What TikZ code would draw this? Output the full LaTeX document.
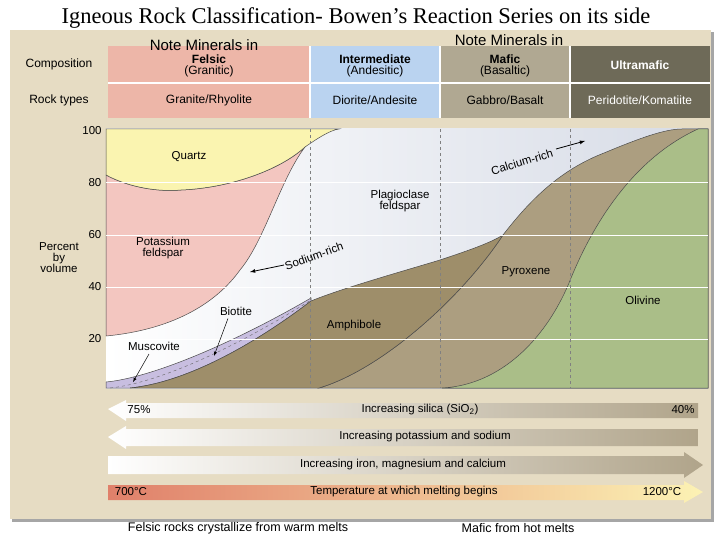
\documentclass[tikz,border=0pt]{standalone}
\usepackage{fontspec}
\setmainfont{Liberation Sans}
\newfontfamily\titlefont{Liberation Serif}
\begin{document}
\begin{tikzpicture}[x=1pt,y=-1pt,
  lbl/.style={font=\fontsize{11.5}{13}\selectfont, align=center, inner sep=1pt},
  hdr/.style={font=\fontsize{12}{13}\selectfont, align=center},
  bdry/.style={draw=black!70, line width=0.5pt},
  arr/.style={-latex, line width=0.8pt}]
\useasboundingbox (0,0) rectangle (720,540);
\fill[white] (0,0) rectangle (720,540);
% panel
\fill[black!35] (12,32) rectangle (714,522);
\fill[fill={rgb,255:red,230;green,220;blue,195}] (10,30) rectangle (711,519);
% header
\fill[fill={rgb,255:red,237;green,182;blue,168}] (108,46) rectangle (310,118);
\fill[fill={rgb,255:red,186;green,211;blue,240}] (310,46) rectangle (440,118);
\fill[fill={rgb,255:red,176;green,168;blue,146}] (440,46) rectangle (570,118);
\fill[fill={rgb,255:red,110;green,106;blue,88}] (570,46) rectangle (710,118);
\draw[white, line width=1.2pt] (108,83) -- (710,83) (310,46) -- (310,118) (440,46) -- (440,118) (570,46) -- (570,118);
\node[hdr] (comp) at (59,64) {Composition};
\node[hdr] (rock) at (59,100) {Rock types};
\node[hdr] (fel) at (209,66) {\textbf{Felsic}\\[-2pt](Granitic)};
\node[hdr] (int) at (375,66) {\textbf{Intermediate}\\[-2pt](Andesitic)};
\node[hdr] (maf) at (505,66) {\textbf{Mafic}\\[-2pt](Basaltic)};
\node[hdr, text=white] (ult) at (640,65) {\textbf{Ultramafic}};
\node[hdr] (r1) at (209,100) {Granite/Rhyolite};
\node[hdr] (r2) at (375,100) {Diorite/Andesite};
\node[hdr] (r3) at (505,100) {Gabbro/Basalt};
\node[hdr, text=white] (r4) at (640,100) {Peridotite/Komatiite};
\node[font=\fontsize{15}{17}\selectfont] (n1) at (204,45) {Note Minerals in};
\node[font=\fontsize{15}{17}\selectfont] (n2) at (509,40) {Note Minerals in};
\node[font=\titlefont\fontsize{22.5}{25}\selectfont] (title) at (356,18) {Igneous Rock Classification- Bowen’s Reaction Series on its side};
% chart background
\shade[left color=white, right color={rgb,255:red,214;green,219;blue,230}] (106,129) rectangle (708,388);
% pyroxene
\fill[fill={rgb,255:red,172;green,158;blue,128}, bdry] (319,388) .. controls (380,370) and (460,300) .. (503,235) .. controls (530,200) and (560,170) .. (604,153) .. controls (640,138) and (665,129) .. (682,129) -- (708,129) -- (708,388) -- cycle;
% olivine
\fill[fill={rgb,255:red,170;green,190;blue,136}, bdry] (442,388) .. controls (500,385) and (545,340) .. (569,283) .. controls (590,230) and (630,160) .. (698,129) -- (708,129) -- (708,388) -- cycle;
% purple biotite
\fill[fill={rgb,255:red,200;green,190;blue,224}, bdry] (106,382) .. controls (150,378) and (230,345) .. (311,298) -- (311,301) .. controls (260,340) and (190,382) .. (130,388) -- (106,388) -- cycle;
\draw[dashed, black!60, line width=0.4pt] (110,388) .. controls (160,383) and (240,345) .. (311,300);
% amphibole
\fill[fill={rgb,255:red,158;green,142;blue,106}, bdry] (130,388) .. controls (190,382) and (260,340) .. (311,301) .. controls (340,289) and (400,272) .. (440,260) .. controls (470,250) and (490,243) .. (503,235) .. controls (460,300) and (380,370) .. (319,388) -- cycle;
% potassium feldspar
\fill[fill={rgb,255:red,243;green,198;blue,192}, bdry] (106,175) .. controls (130,188) and (160,192) .. (181,190) .. controls (230,188) and (280,170) .. (305,147) .. controls (280,180) and (265,240) .. (240,270) .. controls (215,305) and (170,330) .. (106,336) -- cycle;
% quartz
\fill[fill={rgb,255:red,250;green,244;blue,176}, bdry] (106,129) -- (106,175) .. controls (130,188) and (160,192) .. (181,190) .. controls (230,188) and (280,170) .. (305,147) .. controls (315,140) and (330,130) .. (339,129) -- cycle;
% grid
\draw[white, line width=1pt] (106,183) -- (708,183) (106,235) -- (708,235) (106,287) -- (708,287) (106,339) -- (708,339);
\draw[dashed, black!50, line width=0.4pt] (310,129) -- (310,388) (440,129) -- (440,388) (570,129) -- (570,388);
% axis labels
\node[lbl] (y100) at (92,131) {100};
\node[lbl] (y80) at (95,183) {80};
\node[lbl] (y60) at (95,235) {60};
\node[lbl] (y40) at (95,287) {40};
\node[lbl] (y20) at (95,339) {20};
\node[lbl] (pv) at (59,258) {Percent\\[-2pt]by\\[-2pt]volume};
% mineral labels
\node[lbl] (qz) at (189,157) {Quartz};
\node[lbl] (kf) at (163,248) {Potassium\\[-2pt]feldspar};
\node[lbl] (pl) at (400,201) {Plagioclase\\[-2pt]feldspar};
\node[lbl, rotate=20] (na) at (314,256) {Sodium-rich};
\coordinate (na1) at (284,265); \coordinate (na2) at (250,272);
\draw[arr] (na1) -- (na2);
\node[lbl, rotate=17] (ca) at (522,162) {Calcium-rich};
\coordinate (ca1) at (556,149); \coordinate (ca2) at (585,141);
\draw[arr] (ca1) -- (ca2);
\node[lbl] (bi) at (236,311) {Biotite};
\coordinate (bi2) at (214,356);
\draw[arr, line width=0.5pt] (bi.south) ++(-8,2) -- (bi2);
\node[lbl] (mu) at (154,346) {Muscovite};
\coordinate (mu2) at (133,382);
\draw[arr, line width=0.5pt] (149,354) -- (mu2);
\node[lbl] (am) at (354,326) {Amphibole};
\node[lbl] (py) at (526,272) {Pyroxene};
\node[lbl] (ol) at (643,300) {Olivine};
% bottom arrows
\shade[left color=white, right color={rgb,255:red,176;green,164;blue,138}] (108,409) -- (126,400) -- (126,403) -- (698,403) -- (698,418) -- (126,418) -- (126,421) -- cycle;
\node[lbl] (s1) at (139,410) {75\%};
\node[lbl] (s2) at (420,410) {Increasing silica (SiO\textsubscript{2})};
\node[lbl] (s3) at (683,410) {40\%};
\shade[left color=white, right color={rgb,255:red,176;green,164;blue,138}] (108,437) -- (126,426) -- (126,429) -- (698,429) -- (698,446) -- (126,446) -- (126,449) -- cycle;
\node[lbl] (k1) at (425,437) {Increasing potassium and sodium};
\shade[left color=white, right color={rgb,255:red,176;green,164;blue,138}] (108,456) -- (684,456) -- (684,452) -- (703,465) -- (684,478) -- (684,474) -- (108,474) -- cycle;
\node[lbl] (f1) at (403,465) {Increasing iron, magnesium and calcium};
\shade[left color={rgb,255:red,224;green,128;blue,106}, right color={rgb,255:red,252;green,242;blue,180}] (108,485) -- (684,485) -- (684,481) -- (703,492) -- (684,503) -- (684,500) -- (108,500) -- cycle;
\node[lbl] (t1) at (131,492) {700°C};
\node[lbl] (t2) at (404,492) {Temperature at which melting begins};
\node[lbl] (t3) at (662,492) {1200°C};
% captions
\node[font=\fontsize{12.5}{14}\selectfont] (c1) at (238,528) {Felsic rocks crystallize from warm melts};
\node[font=\fontsize{12.5}{14}\selectfont] (c2) at (518,528) {Mafic from hot melts};
\end{tikzpicture}
\end{document}
